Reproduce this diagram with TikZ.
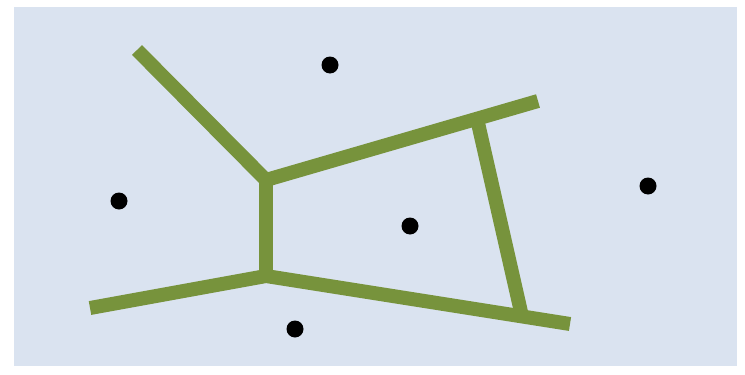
\documentclass[tikz,border=0pt]{standalone}
\definecolor{bgblue}{HTML}{DAE3F0}
\definecolor{olive}{HTML}{77933C}
\begin{document}
\begin{tikzpicture}[x=1pt,y=-1pt,
  edge/.style={draw=olive,line width=14pt,line cap=butt,line join=miter},
  site/.style={circle,fill=black,inner sep=0pt,minimum size=17pt}]
\useasboundingbox (0,0) rectangle (745,375);
\fill[white] (0,0) rectangle (745,375);
\fill[bgblue] (14,7) rectangle (737,366);
\coordinate (tl) at (137,50);
\coordinate (A) at (266,180);
\coordinate (C) at (266,276);
\coordinate (L) at (90,308);
\coordinate (TR) at (538,101);
\coordinate (B) at (478,123);
\coordinate (D) at (521,312);
\coordinate (BR) at (570,324);
\draw[edge] (tl) -- (A);
\draw[edge] (A) -- (TR);
\draw[edge] (A) -- (C);
\draw[edge] (L) -- (C) -- (BR);
\draw[edge] (B) -- (D);
\node[site] (s1) at (330,65) {};
\node[site] (s2) at (119,201) {};
\node[site] (s3) at (410,226) {};
\node[site] (s4) at (648,186) {};
\node[site] (s5) at (295,329) {};
\end{tikzpicture}
\end{document}
